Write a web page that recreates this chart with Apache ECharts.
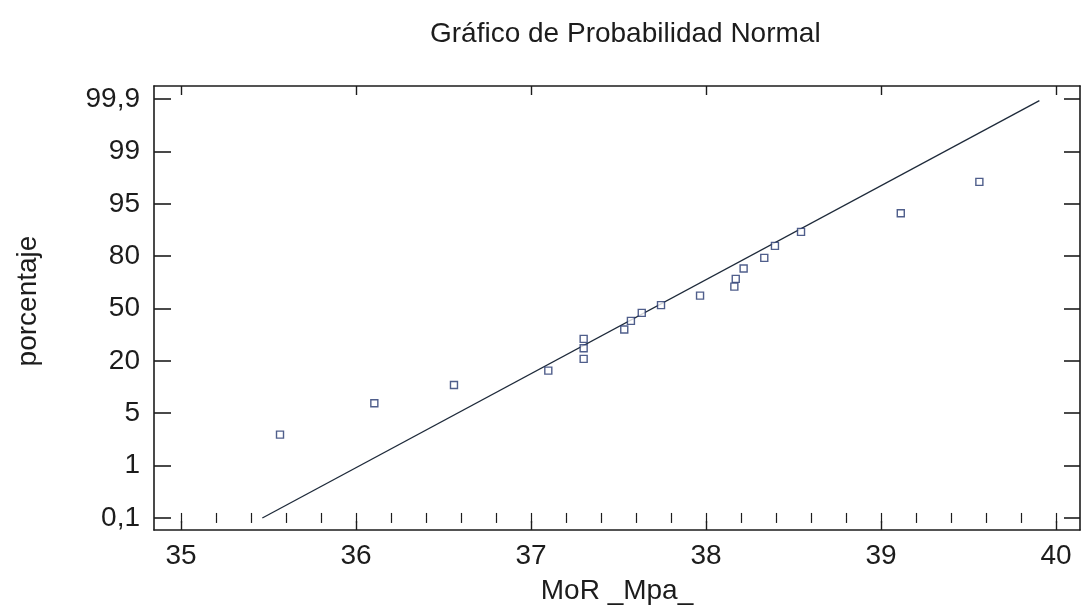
<!DOCTYPE html>
<html>
<head>
<meta charset="utf-8">
<script src="https://cdn.jsdelivr.net/npm/echarts@6/dist/echarts.min.js"></script>
<style>
  html, body { margin: 0; padding: 0; background: #fff; }
  #chart { width: 1082px; height: 614px; }
</style>
</head>
<body>
<div id="chart"></div>
<script>
// MoR values (MPa) and their plotted position on the probability scale (0 = 0,1 ... 8 = 99,9)
const morValues = [35.566, 36.105, 36.56, 37.099, 37.301, 37.301, 37.301, 37.533, 37.571, 37.633,
  37.743, 37.966, 38.162, 38.17, 38.215, 38.333, 38.394, 38.543, 39.113, 39.562];
const probPositions = [1.592, 2.19, 2.54, 2.814, 3.038, 3.242, 3.42, 3.598, 3.764, 3.917,
  4.064, 4.247, 4.419, 4.566, 4.763, 4.967, 5.197, 5.464, 5.821, 6.419];

// fitted reference line (end points)
const fitLineX = [35.465, 39.905];
const fitLineY = [0, 7.97];

// tick labels
const yTickLabels = ['0,1', '1', '5', '20', '50', '80', '95', '99', '99,9'];
const xTickValues = [35, 36, 37, 38, 39, 40];

const X_MIN = 34.846, X_MAX = 40.137;
const Y_MIN = -0.23, Y_MAX = 8.25;

const yTickValues = yTickLabels.map((_, i) => i);
const xMinorValues = [];
for (let v = 34.8; v <= 40.2; v += 0.2) {
  const r = Math.round(v * 10) / 10;
  if (r >= X_MIN && r <= X_MAX) xMinorValues.push(r);
}

const FONT = '"Liberation Sans", Arial, sans-serif';
const INK = '#1c1c1c';

const chart = echarts.init(document.getElementById('chart'));

const baseX = {
  type: 'value',
  min: X_MIN,
  max: X_MAX,
  splitLine: { show: false },
  axisLine: { show: true, onZero: false, lineStyle: { color: INK, width: 1.6 } }
};

const option = {
  backgroundColor: '#fff',
  animation: false,
  title: {
    text: 'Gráfico de Probabilidad Normal',
    left: 425,
    top: 15,
    textStyle: { fontFamily: FONT, fontSize: 28, fontWeight: 'normal', color: INK }
  },
  grid: { left: 154, top: 86, right: 2, bottom: 84, containLabel: false },
  xAxis: [
    Object.assign({}, baseX, {
      position: 'bottom',
      name: 'MoR _Mpa_',
      nameLocation: 'middle',
      nameGap: 47,
      nameTextStyle: { fontFamily: FONT, fontSize: 28, color: INK },
      axisTick: { show: true, inside: true, length: 9, customValues: xTickValues, lineStyle: { color: INK, width: 1.4 } },
      axisLabel: { show: true, margin: 12, customValues: xTickValues, fontFamily: FONT, fontSize: 28, color: INK,
        formatter: v => String(Math.round(v)) }
    }),
    Object.assign({}, baseX, {
      position: 'bottom',
      axisLine: { show: false },
      axisTick: { show: true, inside: true, length: 5, customValues: xMinorValues, lineStyle: { color: INK, width: 1.2 } },
      axisLabel: { show: false }
    }),
    Object.assign({}, baseX, {
      position: 'top',
      axisTick: { show: true, inside: true, length: 9, customValues: xTickValues, lineStyle: { color: INK, width: 1.4 } },
      axisLabel: { show: false }
    }),
    Object.assign({}, baseX, {
      position: 'top',
      axisLine: { show: false },
      axisTick: { show: true, inside: true, length: 5, customValues: xMinorValues, lineStyle: { color: INK, width: 1.2 } },
      axisLabel: { show: false }
    })
  ],
  yAxis: [
    {
      type: 'value',
      position: 'left',
      min: Y_MIN,
      max: Y_MAX,
      name: 'porcentaje',
      nameLocation: 'middle',
      nameGap: 112,
      nameTextStyle: { fontFamily: FONT, fontSize: 28, color: INK, padding: [0, 0, 0, 14] },
      splitLine: { show: false },
      axisLine: { show: true, onZero: false, lineStyle: { color: INK, width: 1.6 } },
      axisTick: { show: true, inside: true, length: 17, customValues: yTickValues, lineStyle: { color: INK, width: 1.6 } },
      axisLabel: { show: true, margin: 14, customValues: yTickValues, fontFamily: FONT, fontSize: 28, color: INK,
        formatter: v => yTickLabels[Math.round(v)] }
    },
    {
      type: 'value',
      position: 'right',
      min: Y_MIN,
      max: Y_MAX,
      splitLine: { show: false },
      axisLine: { show: true, onZero: false, lineStyle: { color: INK, width: 1.6 } },
      axisTick: { show: true, inside: true, length: 16, customValues: yTickValues, lineStyle: { color: INK, width: 1.6 } },
      axisLabel: { show: false }
    }
  ],
  series: [
    {
      type: 'line',
      xAxisIndex: 0,
      yAxisIndex: 0,
      data: fitLineX.map((x, i) => [x, fitLineY[i]]),
      symbol: 'none',
      lineStyle: { color: '#1e2a3a', width: 1.3 },
      silent: true,
      z: 2
    },
    {
      type: 'scatter',
      xAxisIndex: 0,
      yAxisIndex: 0,
      data: morValues.map((x, i) => [x, probPositions[i]]),
      symbol: 'rect',
      symbolSize: 7,
      itemStyle: { color: '#fff', borderColor: '#23366e', borderWidth: 1.4 },
      z: 3
    }
  ]
};

chart.setOption(option);
</script>
</body>
</html>
